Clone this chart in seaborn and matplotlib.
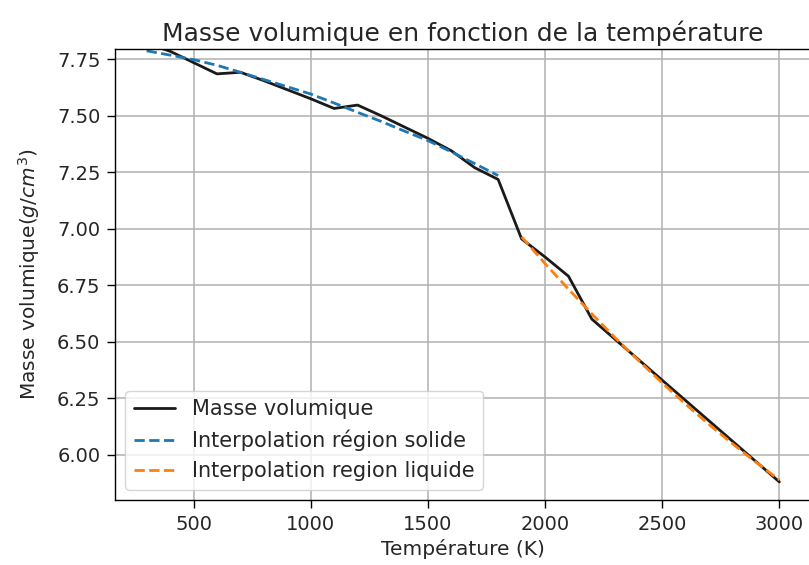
import numpy as np
import pandas as pd
import matplotlib
matplotlib.use("Agg")
import matplotlib.pyplot as plt
import seaborn as sns

# Mesures (température en K, masse volumique en g/cm3)
temperature = [300, 400, 500, 600, 700, 800, 900, 1000, 1100, 1200, 1300, 1400,
               1500, 1600, 1700, 1800, 1900, 2000, 2100, 2200, 2300, 2400, 2500,
               2600, 2700, 2800, 2900, 3000]
masse_volumique = [7.82, 7.785, 7.735, 7.685, 7.692, 7.655, 7.615, 7.575, 7.532,
                   7.547, 7.50, 7.45, 7.40, 7.345, 7.27, 7.218, 6.955, 6.875,
                   6.79, 6.60, 6.51, 6.42, 6.33, 6.24, 6.15, 6.06, 5.97, 5.88]

# Courbes d'interpolation
t_solide = [300, 400, 500, 600, 700, 800, 900, 1000, 1100, 1200, 1300, 1400,
            1500, 1600, 1700, 1800]
rho_solide = [7.787, 7.768, 7.748, 7.723, 7.692, 7.660, 7.628, 7.596, 7.556,
              7.515, 7.475, 7.432, 7.390, 7.340, 7.288, 7.235]
t_liquide = [1900, 2000, 2100, 2200, 2300, 2400, 2500, 2600, 2700, 2800, 2900, 3000]
rho_liquide = [6.964, 6.846, 6.733, 6.623, 6.517, 6.416, 6.318, 6.224, 6.134,
               6.049, 5.967, 5.889]

sns.set_theme(style="ticks", rc={"axes.edgecolor": "black", "axes.linewidth": 1.0})
plt.rcParams["font.family"] = ["DejaVu Sans"]
plt.rcParams["mathtext.fontset"] = "dejavusans"

df = pd.DataFrame({"T": temperature, "rho": masse_volumique})
df_sol = pd.DataFrame({"T": t_solide, "rho": rho_solide})
df_liq = pd.DataFrame({"T": t_liquide, "rho": rho_liquide})

fig = plt.figure(figsize=(8.09, 5.65), dpi=100)
ax = fig.add_axes([115 / 809, 65 / 565, 696 / 809, 451 / 565])

sns.lineplot(data=df, x="T", y="rho", ax=ax, color="#1a1a1a", linewidth=2.0,
             label="Masse volumique")
sns.lineplot(data=df_sol, x="T", y="rho", ax=ax, color="#1f77b4", linewidth=2.0,
             linestyle="--", label="Interpolation région solide")
sns.lineplot(data=df_liq, x="T", y="rho", ax=ax, color="#ff7f0e", linewidth=2.0,
             linestyle="--", label="Interpolation region liquide")

ax.set_xlim(165, 3135)
ax.set_ylim(5.80, 7.795)
ax.set_xticks([500, 1000, 1500, 2000, 2500, 3000])
ax.set_yticks([6.00, 6.25, 6.50, 6.75, 7.00, 7.25, 7.50, 7.75])
ax.yaxis.set_major_formatter(matplotlib.ticker.FormatStrFormatter("%.2f"))
ax.grid(True, color="#b0b0b0", linewidth=1.1)
ax.tick_params(labelsize=14, length=6, width=1, pad=4.5, color="black",
               labelcolor="#262626")

ax.set_title("Masse volumique en fonction de la température", fontsize=18,
             color="#262626", pad=6)
ax.set_xlabel("Température (K)", fontsize=14.5, color="#262626")
ax.set_ylabel(r"Masse volumique$(g/cm^3)$", fontsize=14.5, color="#262626",
              labelpad=11)

leg = ax.legend(loc="lower left", fontsize=15, frameon=True, handlelength=2.0)
leg.get_frame().set_edgecolor("#cccccc")

fig.savefig("out.png", dpi=100)
